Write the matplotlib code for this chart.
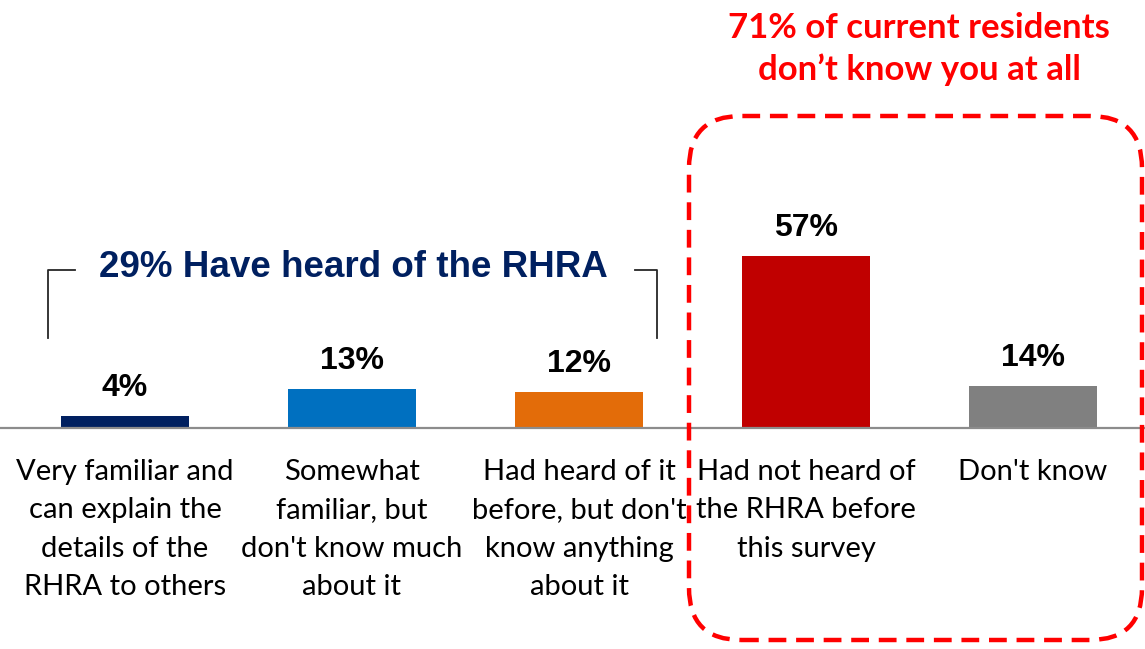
import matplotlib
matplotlib.use('Agg')
import matplotlib.pyplot as plt
from matplotlib.patches import FancyBboxPatch
from matplotlib.lines import Line2D

categories = ["Very familiar and\ncan explain the\ndetails of the\nRHRA to others",
              "Somewhat\nfamiliar, but\ndon't know much\nabout it",
              "Had heard of it\nbefore, but don't\nknow anything\nabout it",
              "Had not heard of\nthe RHRA before\nthis survey",
              "Don't know"]
values = [4, 13, 12, 57, 14]
colors = ['#002060', '#0070C0', '#E36C09', '#C00000', '#808080']

W, H = 1145, 649


def px(x, y):
    # pixel coords (from top-left) -> figure fraction
    return x / W, 1 - y / H


fig = plt.figure(figsize=(W / 100, H / 100), dpi=100)
fig.patch.set_facecolor('white')

base = 428
ax = fig.add_axes([0, (H - base) / H, 1, base / H])
ax.bar(range(len(values)), values, width=0.56, color=colors, zorder=2)
ax.set_xlim(-125 / 227, (W - 125) / 227)
ax.set_ylim(0, base / 3.02)
for s in ['top', 'right', 'left']:
    ax.spines[s].set_visible(False)
ax.spines['bottom'].set_color('#8c8c8c')
ax.spines['bottom'].set_linewidth(1.6)
ax.set_yticks([])
ax.set_xticks(range(len(categories)))
ax.set_xticklabels(categories, family=['Lato', 'DejaVu Sans'], fontsize=21,
                   linespacing=1.6, va='top')
ax.tick_params(axis='x', length=0, pad=22)

for i, v in enumerate(values):
    ax.annotate(f"{v}%", (i, v), xytext=(0, 9), textcoords='offset points',
                ha='center', va='bottom', fontsize=23, fontweight='bold',
                family=['Liberation Sans Narrow', 'Liberation Sans', 'DejaVu Sans'])

# bracket over the first three bars
lc = '#262626'
fig.add_artist(Line2D([px(48, 0)[0], px(48, 0)[0], px(75, 0)[0]],
                      [px(0, 338)[1], px(0, 270)[1], px(0, 270)[1]],
                      color=lc, lw=1.3, transform=fig.transFigure))
fig.add_artist(Line2D([px(635, 0)[0], px(657, 0)[0], px(657, 0)[0]],
                      [px(0, 270)[1], px(0, 270)[1], px(0, 338)[1]],
                      color=lc, lw=1.3, transform=fig.transFigure))
fig.text(*px(353, 268), "29% Have heard of the RHRA", ha='center', va='center',
         fontsize=26.5, fontweight='bold', color='#002060',
         family=['Liberation Sans', 'DejaVu Sans'])

# red dashed rounded box
box = FancyBboxPatch((689, H - 640), 1142 - 689, 640 - 116,
                     boxstyle='round,pad=0,rounding_size=52',
                     transform=None, fill=False, edgecolor='#FF0000',
                     lw=3.2, linestyle=(0, (4, 2.2)), zorder=5)
fig.add_artist(box)

fig.text(*px(919, 49), "71% of current residents\ndon\u2019t know you at all",
         ha='center', va='center', fontsize=25, fontweight='bold',
         color='#FF0000', linespacing=1.33, family=['Lato', 'DejaVu Sans'])

fig.savefig('out.png', dpi=100)
